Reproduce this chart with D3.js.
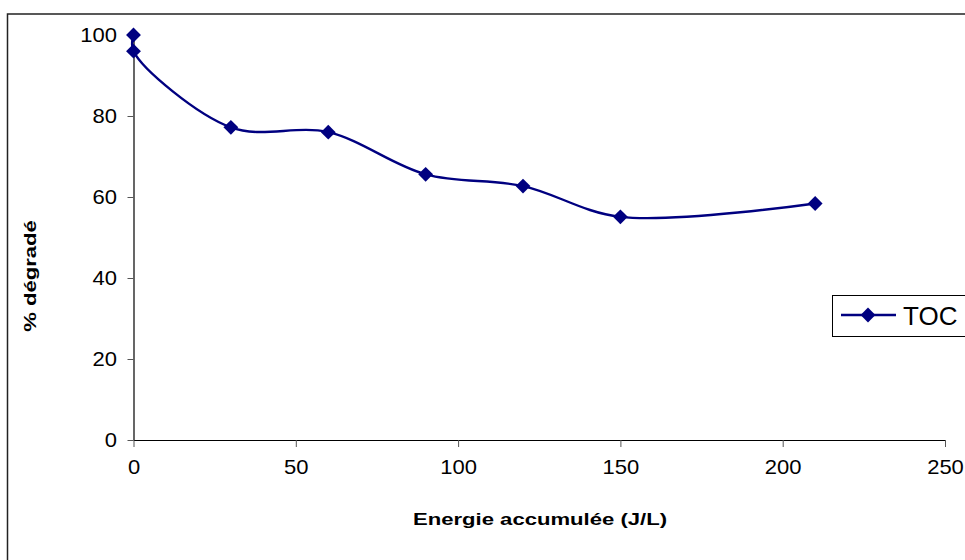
<!DOCTYPE html>
<html>
<head>
<meta charset="utf-8">
<script src="https://cdn.jsdelivr.net/npm/d3@7"></script>
<style>
  body { margin: 0; background: #fff; }
  text { font-family: 'Liberation Sans', Arial, sans-serif; fill: #000; }
</style>
</head>
<body>
<div id="chart"></div>
<script>
// energy (J/L) and % remaining
const energy = [0, 0, 30, 60, 90, 120, 150, 210]
const degrade = [100, 96, 77.2, 76, 65.6, 62.7, 55.1, 58.4]
const xTicks = [0, 50, 100, 150, 200, 250]
const yTicks = [0, 20, 40, 60, 80, 100]
const seriesName = 'TOC'

const W = 965
const H = 560

const svg = d3.select('#chart')
  .append('svg')
  .attr('width', W)
  .attr('height', H)

// outer frame (runs past the right and bottom edges)
svg.append('rect')
  .attr('x', 7.5)
  .attr('y', 14)
  .attr('width', 1000)
  .attr('height', 1000)
  .attr('fill', 'none')
  .attr('stroke', '#222')
  .attr('stroke-width', 1.5)

const x = d3.scaleLinear().domain([0, 250]).range([133.5, 945])
const y = d3.scaleLinear().domain([0, 100]).range([440, 35])

const xAxis = svg.append('g')
  .attr('transform', 'translate(0,440)')
  .call(d3.axisBottom(x).tickValues(xTicks).tickSize(7).tickSizeOuter(0).tickPadding(13))
xAxis.select('.domain').attr('stroke', '#000').attr('stroke-width', 1.2)
xAxis.selectAll('.tick line').attr('stroke', '#555')
xAxis.selectAll('text')
  .style('font-size', '20px')
  .attr('transform', 'scale(1.1,1)')

const yAxis = svg.append('g')
  .attr('transform', 'translate(133.5,0)')
  .call(d3.axisLeft(y).tickValues(yTicks).tickSize(6).tickSizeOuter(0).tickPadding(9))
yAxis.select('.domain').attr('stroke', '#000').attr('stroke-width', 1.2)
yAxis.selectAll('.tick line').attr('stroke', '#555')
yAxis.selectAll('text')
  .style('font-size', '20px')
  .attr('transform', 'scale(1.1,1)')

const points = energy.map((e, i) => ({ e: e, v: degrade[i] }))

const line = d3.line()
  .x(d => x(d.e))
  .y(d => y(d.v))
  .curve(d3.curveCatmullRom.alpha(0.5))

svg.append('path')
  .datum(points)
  .attr('d', line)
  .attr('fill', 'none')
  .attr('stroke', '#000080')
  .attr('stroke-width', 2.4)

const diamond = d3.symbol().type(d3.symbolSquare).size(110)

svg.selectAll('.marker')
  .data(points)
  .enter()
  .append('path')
  .attr('class', 'marker')
  .attr('d', diamond)
  .attr('transform', d => 'translate(' + x(d.e) + ',' + y(d.v) + ') rotate(45)')
  .attr('fill', '#000080')

// axis titles (the original font is set wide)
svg.append('text')
  .attr('transform', 'translate(540,525) scale(1.3,1)')
  .attr('text-anchor', 'middle')
  .style('font-size', '17px')
  .style('font-weight', 'bold')
  .text('Energie accumulée (J/L)')

svg.append('text')
  .attr('transform', 'translate(36,276) rotate(-90) scale(1.3,1)')
  .attr('text-anchor', 'middle')
  .style('font-size', '17px')
  .style('font-weight', 'bold')
  .text('% dégradé')

// legend
const legend = svg.append('g')
legend.append('rect')
  .attr('x', 832.5)
  .attr('y', 295.5)
  .attr('width', 200)
  .attr('height', 41)
  .attr('fill', '#fff')
  .attr('stroke', '#000')
  .attr('stroke-width', 1)
legend.append('line')
  .attr('x1', 841)
  .attr('x2', 896)
  .attr('y1', 315)
  .attr('y2', 315)
  .attr('stroke', '#000080')
  .attr('stroke-width', 2.4)
legend.append('path')
  .attr('d', diamond)
  .attr('transform', 'translate(868,315) rotate(45)')
  .attr('fill', '#000080')
legend.append('text')
  .attr('x', 903)
  .attr('y', 325)
  .style('font-size', '26px')
  .text(seriesName)
</script>
</body>
</html>
